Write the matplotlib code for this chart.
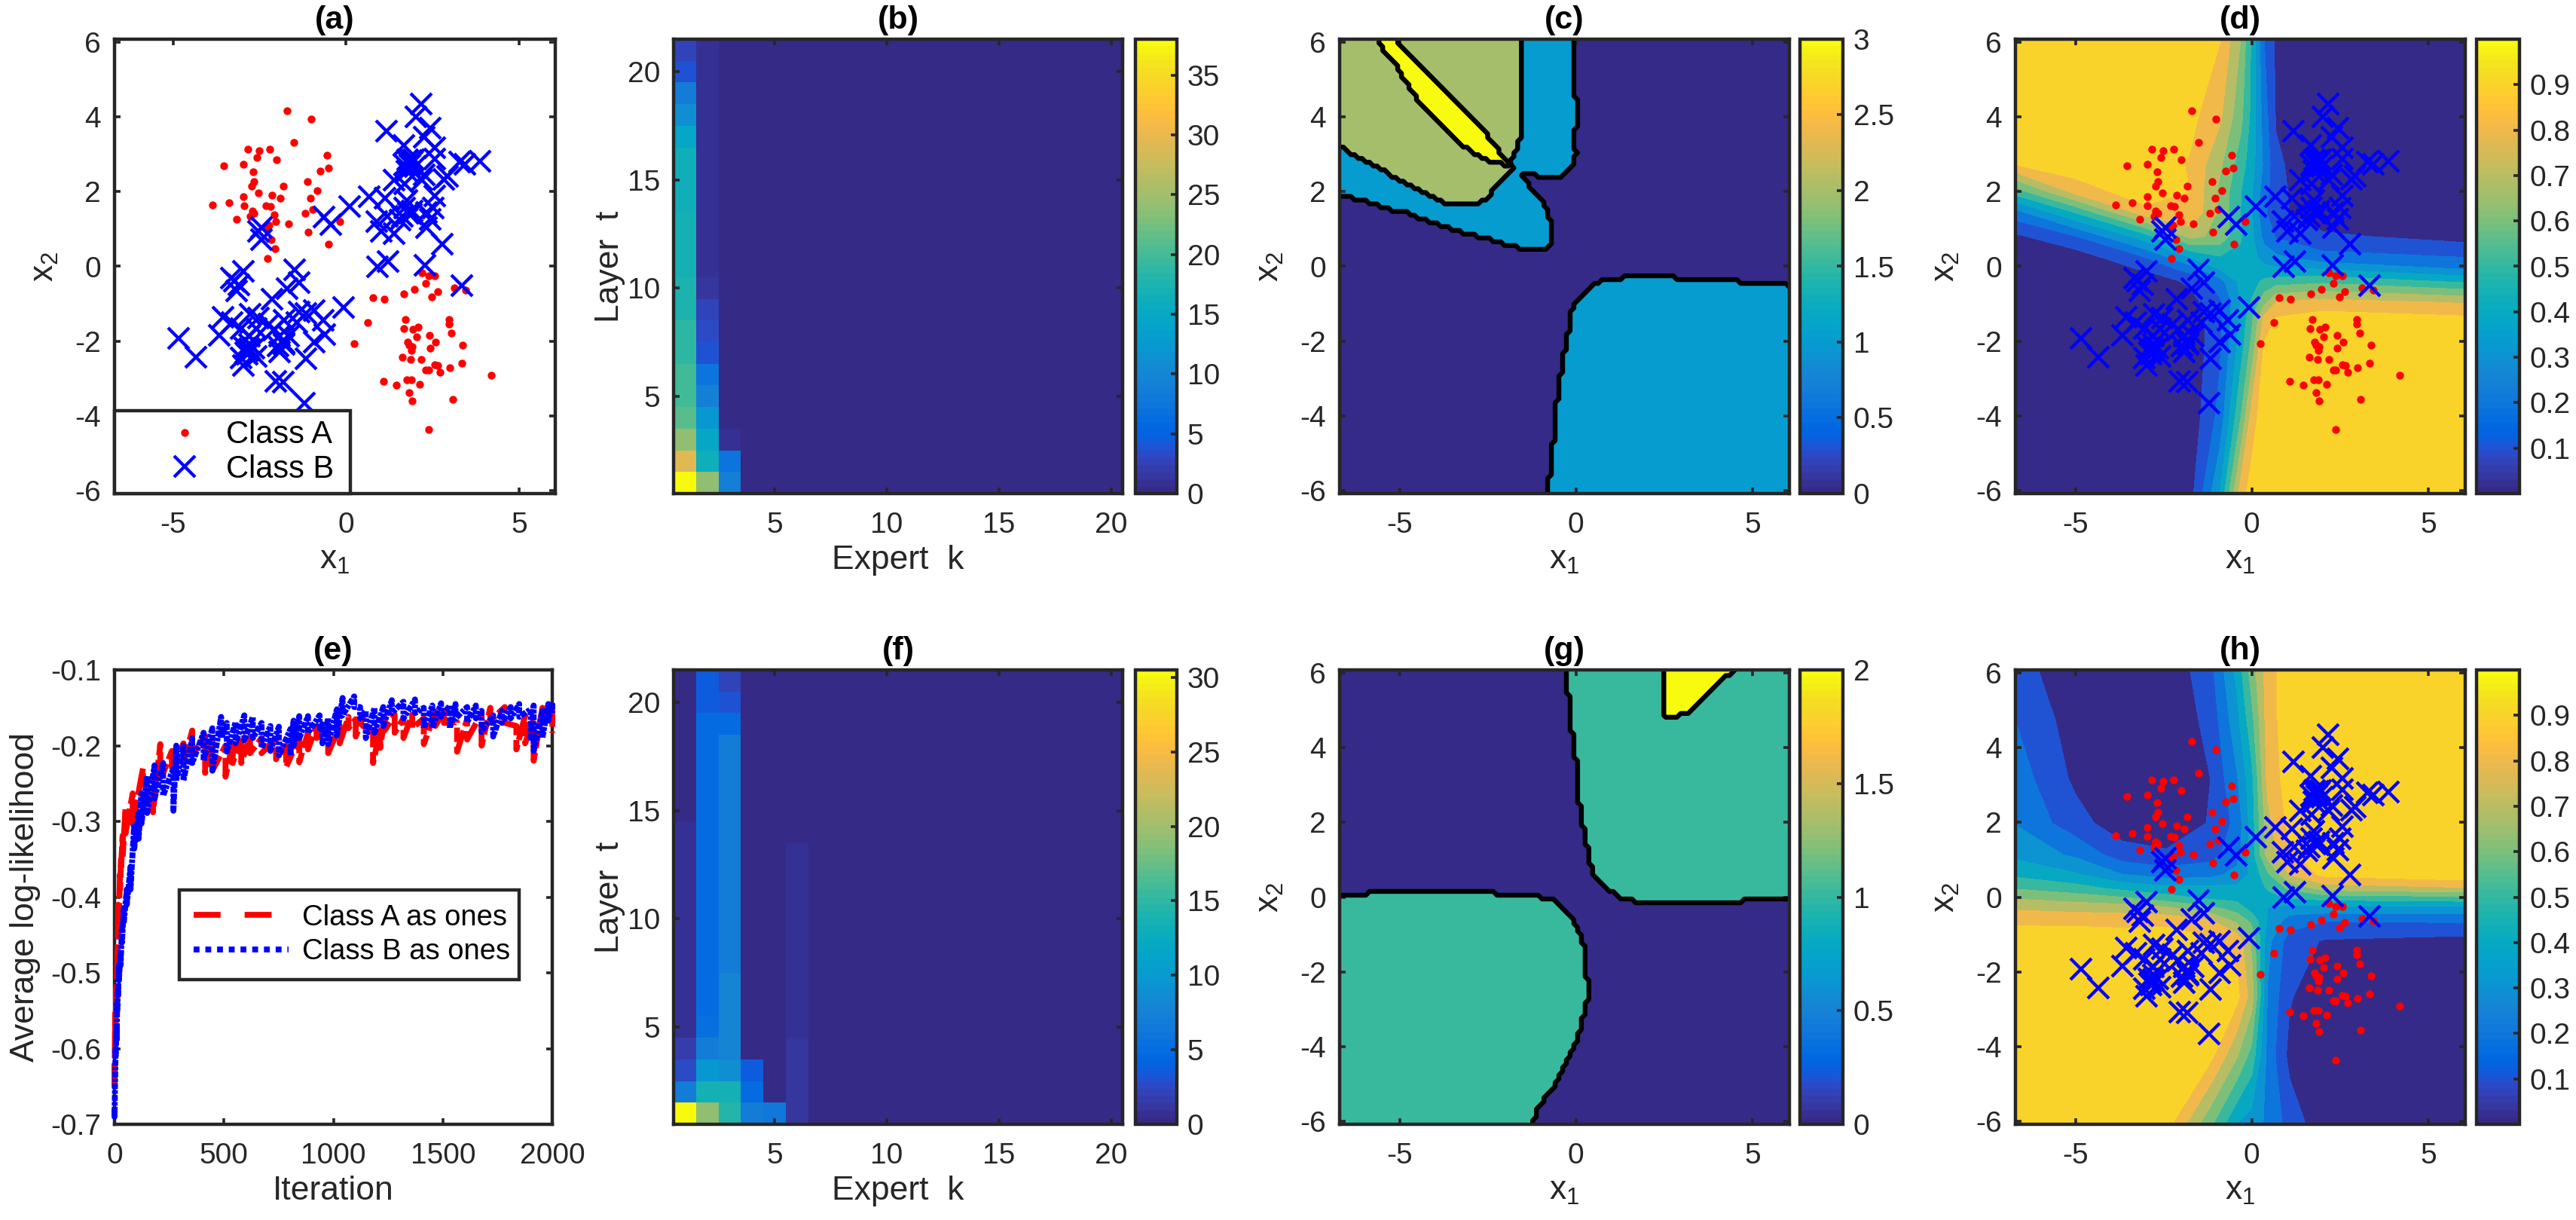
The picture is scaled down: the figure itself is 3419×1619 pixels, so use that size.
import numpy as np
import matplotlib
matplotlib.use('Agg')
from matplotlib import pyplot as plt
from matplotlib.cm import ScalarMappable
from matplotlib.colors import ListedColormap, Normalize
from matplotlib.path import Path

plt.rcParams['font.family'] = ['Liberation Sans', 'DejaVu Sans']
plt.rcParams['mathtext.fontset'] = 'custom'
plt.rcParams['mathtext.rm'] = 'Liberation Sans'
plt.rcParams['mathtext.default'] = 'rm'
plt.rcParams['axes.unicode_minus'] = False
plt.rcParams['font.size'] = 28

# scatter data, same points in (a), (d), (h)
red_x = [-1.71, -1.01, -1.52, -2.84, -2.51, -2.21, -2.58, -2.01, -3.54, -2.97, -0.56, -0.52, -0.74, -2.69,
         -2.66, -2.73, -1.82, -1.13, -0.84, -2.54, -2.14, -2.97, -1.91, -1.03, -3.87, -3.38, -2.96, -2.31,
         -2.19, -0.96, -2.72, -1.18, -2.67, -2.07, -2.77, -3.18, -2.03, -1.66, -0.19, -2.23, -2.28, -1.10,
         -2.16, -0.50, -2.06, -2.27,
         2.19, 2.38, 2.56, 2.31, 1.98, 3.12, 3.45, 2.64, 1.68, 2.48, 0.77, 1.10, 0.62, 1.71, 2.97, 2.97,
         2.08, 1.66, 1.92, 3.05, 2.41, 2.04, 2.58, 1.78, 3.37, 0.24, 1.82, 2.43, 1.90, 1.88, 1.63, 1.87,
         2.18, 3.34, 2.56, 2.66, 3.00, 2.31, 2.38, 2.71, 4.20, 1.07, 1.75, 1.88, 1.46, 2.13, 1.83, 3.09,
         1.91, 2.38]
red_y = [4.17, 3.95, 3.32, 3.13, 3.10, 3.13, 2.91, 2.86, 2.70, 2.73, 2.98, 2.64, 2.55, 2.53,
         2.27, 2.14, 2.15, 2.26, 2.03, 1.96, 1.91, 1.87, 1.83, 1.83, 1.65, 1.71, 1.63, 1.63,
         1.60, 1.52, 1.49, 1.42, 1.42, 1.39, 1.34, 1.27, 1.20, 1.13, 1.19, 1.09, 1.03, 0.92,
         0.71, 0.59, 0.47, 0.21,
         -0.18, -0.25, -0.25, -0.45, -0.61, -0.58, -0.63, -0.68, -0.74, -0.82, -0.83, -0.87, -1.51, -1.42, -1.42, -1.55,
         -1.63, -1.67, -1.69, -1.79, -1.85, -1.89, -2.03, -2.02, -2.11, -2.07, -2.11, -2.18, -2.14, -2.25, -2.44, -2.50,
         -2.50, -2.60, -2.64, -2.65, -2.72, -2.77, -2.77, -2.84, -2.92, -3.07, -3.04, -3.04, -3.17, -3.15, -3.37, -3.55,
         -3.59, -4.36]
blue_x = [2.17, 2.01, 2.44, 1.17, 2.26, 2.57, 1.67, 2.57, 1.78, 1.88, 3.88, 3.44, 3.28, 1.70, 1.90, 1.85, 2.00,
          1.75, 2.26, 2.94, 2.82, 1.38, 1.70, 2.19, 2.57, 0.67, 1.13, 1.76, 0.11, 2.51, 1.70, 1.20, 1.63, 2.32,
          1.88, 0.89, 1.57, 2.44, 1.01, 1.38, 2.32, 2.79, 1.22, 0.91, 2.29, 3.34, 1.95, 1.82, 1.80, 1.90,
          -0.65, -0.45, -2.44, -2.54, -2.44,
          -2.98, -1.50, -3.32, -3.23, -3.17, -3.10, -1.36, -1.70, -2.14, -0.07, -3.57, -0.92, -1.17, -1.36, -2.77,
          -2.54, -3.29, -0.67, -1.80, -1.42, -2.23, -3.04, -2.61, -2.11, -3.67, -0.61, -2.79, -1.67, -1.92, -4.85,
          -0.92, -2.79, -1.80, -1.98, -2.92, -2.67, -4.35, -1.92, -2.86, -1.17, -2.61, -3.04, -2.98, -2.04, -1.82,
          -1.21, -2.85, -2.90, -2.80, -1.85, -1.80]
blue_y = [4.35, 4.01, 3.70, 3.62, 3.46, 3.18, 3.23, 2.88, 2.85, 2.83, 2.81, 2.74, 2.79, 2.72, 2.80, 2.72, 2.68,
          2.55, 2.46, 2.41, 2.32, 2.30, 2.20, 2.30, 1.88, 1.86, 1.83, 1.77, 1.61, 1.56, 1.56, 1.35, 1.35, 1.44,
          1.40, 1.19, 1.25, 1.27, 0.93, 0.88, 1.03, 0.59, 0.14, -0.02, 0.03, -0.52, 2.85, 2.78, 1.42, 1.48,
          1.33, 1.12, 1.03, 0.93, 0.72,
          -0.13, -0.09, -0.32, -0.39, -0.65, -0.50, -0.44, -0.60, -0.87, -1.10, -1.36, -1.18, -1.26, -1.23, -1.29,
          -1.39, -1.50, -1.45, -1.45, -1.50, -1.55, -1.66, -1.66, -1.71, -1.84, -1.82, -1.87, -1.87, -1.87, -1.92,
          -2.03, -2.08, -2.08, -2.13, -2.18, -2.18, -2.42, -2.29, -2.34, -2.47, -2.40, -2.45, -2.66, -3.08, -3.10,
          -3.66, -2.25, -2.30, -2.20, -2.00, -2.05]

# (b) and (f): columns of the expert/layer maps, t = 1 upward, the rest is zero
b_col1 = [38, 29.6, 24.1, 20.8, 19.6, 19.6, 18.7, 18.7, 17.8, 17.8, 16.9, 16.9, 16.9, 16.3, 16.3, 16.3, 14.8, 10.9, 8.4, 3.6, 2.4]
b_col2 = [24.1, 16.3, 14.8, 12, 9, 7.2, 3.6, 3, 2.4, 1.2, 0.6, 0.6, 0.6, 0.6, 0.6, 0.6, 0.6, 0.6, 0.6, 0.6, 0.6]
b_col3 = [9, 7.2, 0.6]
f_col1 = [30.5, 6.8, 2.4, 1.7, 0.7, 0.7, 0.7, 0.7, 0.7, 0.7, 0.5, 0.5, 0.5, 0.5]
f_col2 = [19.4, 13.6, 9.7, 6.8, 5.3, 4.9, 4.9, 4.9, 4.9, 4.9, 4.9, 4.9, 4.9, 4.9, 4.9, 4.9, 4.9, 4.9, 4.9, 3.4, 3.4]
f_col3 = [14.5, 13.6, 8.7, 7.7, 7.7, 7.7, 7.7, 7, 7, 7, 7, 7, 7, 7, 7, 7, 7, 7, 4.9, 2.9, 2.2]
f_col4 = [6.8, 4.9, 3.4]
f_col5 = [6.3]
f_col6 = [1.2, 1.2, 1.2, 1.2, 0.7, 0.7, 0.7, 0.7, 0.7, 0.7, 0.7, 0.7, 0.7]

# (c) region outlines
c_low_x = [-0.80, -0.67, -0.59, -0.51, -0.40, -0.29, -0.21, -0.13, 0, 0.51, 0.93, 1.73, 2.78, 2.86, 4.59, 4.67, 5.85, 5.96, 6.2, 6.2, -0.80]
c_low_y = [-6.04, -5.04, -4.16, -3.36, -2.64, -2.12, -1.68, -1.16, -0.96, -0.48, -0.34, -0.26, -0.26, -0.32, -0.32, -0.42, -0.42, -0.52, -0.52, -6.2, -6.2]
c_one_x = [-6.9, -6.65, -6.36, -5.93, -5.43, -4.84, -4.34, -3.62, -3.07, -2.48, -2.06, -1.68, -1.14, -1.05, -0.80, -0.67, -0.66, -0.80,
           -0.97, -1.26, -1.52, -1.43, -1.22, -1.14, -0.42, -0.13, 0, -0.03, 0.04, 0.04, -0.04, -0.04, -6.9]
c_one_y = [1.92, 1.92, 1.82, 1.72, 1.56, 1.44, 1.24, 1.04, 0.86, 0.72, 0.60, 0.50, 0.46, 0.40, 0.52, 0.64, 1.04, 1.40,
           1.80, 2.08, 2.40, 2.52, 2.52, 2.42, 2.42, 2.68, 2.96, 3.68, 3.76, 4.44, 4.56, 6.2, 6.2]
c_two_x = [-6.9, -6.65, -6.36, -5.93, -5.47, -5.09, -4.59, -4.08, -3.54, -2.95, -2.57, -2.02, -1.77, -1.85, -1.73, -1.68, -1.58, -1.58, -6.9]
c_two_y = [3.22, 3.22, 3.02, 2.78, 2.60, 2.32, 2.12, 1.84, 1.64, 1.64, 1.80, 2.36, 2.60, 2.80, 3.00, 3.28, 3.40, 6.2, 6.2]
c_three_x = [-5.60, -5.47, -5.09, -4.67, -4.42, -3.45, -2.90, -2.31, -1.89, -2.69, -5.09, -5.09, -5.60]
c_three_y = [6.04, 5.80, 5.36, 4.72, 4.36, 3.40, 3.04, 2.76, 2.72, 3.72, 6.04, 6.2, 6.2]

# (g) region outlines
g_up_x = [-0.28, -0.28, -0.17, -0.17, -0.08, -0.08, 0, 0, 0.08, 0.08, 0.17, 0.17, 0.28, 0.28, 0.36, 0.36, 0.46, 0.51, 0.93, 1.09,
          1.30, 1.56, 1.68, 2.40, 2.48, 4.63, 4.76, 5.96, 6.2, 6.2, -0.28]
g_up_y = [6.1, 5.42, 5.34, 4.50, 4.42, 3.74, 3.66, 3.10, 3.02, 2.54, 2.46, 1.90, 1.82, 1.38, 1.30, 0.94, 0.86, 0.58, 0.14, 0.10,
          -0.04, -0.04, -0.12, -0.12, -0.20, -0.20, -0.10, -0.10, -0.10, 6.2, 6.2]
g_top_x = [2.44, 2.44, 2.57, 2.82, 2.99, 3.20, 4.42, 4.6, 2.44]
g_top_y = [6.04, 4.98, 4.78, 4.78, 4.90, 4.94, 6.04, 6.2, 6.2]
g_low_x = [-6.9, -5.93, -5.85, -2.31, -2.23, -1.05, -0.97, -0.67, -0.51, -0.04, 0.08, 0.21, 0.29, 0.34, 0.21, 0.13, -0.04, -0.21,
           -0.46, -0.67, -0.93, -1.14, -1.24, -1.3, -6.9]
g_low_y = [0.04, 0.04, 0.14, 0.14, 0.04, 0.04, -0.06, -0.06, -0.17, -0.62, -0.94, -1.26, -1.70, -2.70, -3.14, -3.58, -3.94, -4.30,
           -4.78, -5.14, -5.46, -5.78, -6.06, -6.2, -6.2]

# (d) output probability read on a coarse grid, rows go from top to bottom
d_x = [-6.7, -5.03, -3.01, -1.75, -0.91, -0.32, 0, 0.35, 0.69, 2.01, 6.05]
d_y = [6.08, 4, 2.72, 2, 1.44, 0.8, 0.24, -0.08, -0.4, -0.96, -1.36, -2, -4, -6.08]
d_z = [[.98, .98, .98, .96, .905, .70, .48, .20, .08, .01, .01],
       [.98, .98, .98, .93, .82, .63, .47, .25, .09, .01, .01],
       [.90, .97, .97, .89, .72, .55, .44, .28, .12, .01, .01],
       [.55, .83, .97, .90, .68, .505, .41, .25, .13, .01, .01],
       [.26, .50, .86, .89, .68, .50, .41, .22, .13, .02, .01],
       [.08, .19, .46, .73, .67, .51, .42, .27, .19, .12, .06],
       [.02, .04, .20, .40, .49, .48, .44, .35, .32, .235, .20],
       [.01, .02, .11, .24, .40, .43, .45, .44, .42, .40, .30],
       [.01, .01, .03, .12, .26, .43, .46, .52, .55, .575, .48],
       [.005, .005, .01, .06, .18, .40, .51, .67, .80, .84, .79],
       [.005, .005, .005, .03, .17, .42, .58, .82, .90, .94, .91],
       [.005, .005, .005, .02, .18, .44, .62, .90, .96, .98, .98],
       [.005, .005, .005, .03, .23, .59, .84, .97, .98, .98, .98],
       [.005, .005, .005, .06, .40, .845, .95, .98, .98, .98, .98]]

# (h) same thing
h_x = [-6.7, -5, -3.67, -2.42, -1.17, -0.42, 0, 0.45, 1.07, 2.07, 6.05]
h_y = [6.08, 4.73, 3.15, 1.98, 1.14, 0.61, 0.24, -0.02, -0.28, -0.65, -1.18, -2.66, -4.24, -6.08]
h_z = [[.15, .02, .01, .02, .17, .43, .65, .85, .96, .98, .98],
       [.20, .05, .01, .02, .13, .37, .57, .85, .96, .98, .98],
       [.255, .08, .01, .01, .10, .29, .47, .83, .95, .98, .98],
       [.295, .14, .04, .01, .11, .23, .45, .77, .93, .98, .98],
       [.375, .28, .145, .12, .165, .25, .45, .74, .88, .96, .98],
       [.475, .41, .30, .25, .26, .34, .42, .58, .81, .93, .98],
       [.59, .54, .47, .43, .43, .42, .44, .51, .62, .75, .79],
       [.69, .65, .61, .54, .48, .47, .46, .47, .51, .54, .57],
       [.78, .76, .75, .71, .62, .55, .45, .40, .36, .37, .375],
       [.885, .88, .87, .88, .82, .68, .58, .39, .25, .20, .21],
       [.95, .96, .96, .95, .92, .87, .68, .33, .15, .09, .06],
       [.98, .98, .98, .98, .96, .93, .75, .29, .11, .02, .01],
       [.98, .98, .98, .98, .93, .71, .56, .27, .07, .01, .01],
       [.98, .98, .98, .94, .62, .40, .35, .28, .16, .03, .01]]

# (e) curves: top and bottom of the noisy band at each iteration
red_iter = [0, 3, 8, 14, 17, 25, 30, 37, 50, 83, 130, 176, 209, 262, 315, 355, 414, 447, 507, 540, 579, 619, 672, 738, 784, 844, 884,
            923, 976, 1029, 1069, 1102, 1135, 1181, 1214, 1234, 1280, 1320, 1360, 1413, 1466, 1505, 1565, 1611, 1677, 1717, 1783,
            1836, 1876, 1915, 1955, 2000]
red_hi = [-.62, -.55, -.52, -.47, -.41, -.37, -.35, -.319, -.283, -.263, -.230, -.240, -.198, -.207, -.197, -.180, -.187, -.190, -.200,
          -.197, -.188, -.188, -.190, -.190, -.200, -.190, -.183, -.174, -.177, -.174, -.162, -.165, -.162, -.183, -.180, -.162, -.159,
          -.164, -.159, -.164, -.155, -.154, -.169, -.165, -.157, -.150, -.149, -.174, -.160, -.165, -.150, -.147]
red_lo = [-.65, -.60, -.54, -.49, -.45, -.39, -.36, -.349, -.316, -.303, -.276, -.288, -.246, -.233, -.223, -.213, -.236, -.233, -.241,
          -.223, -.223, -.210, -.210, -.218, -.228, -.222, -.205, -.190, -.210, -.197, -.177, -.188, -.174, -.223, -.203, -.180, -.183,
          -.190, -.177, -.198, -.174, -.170, -.208, -.192, -.200, -.167, -.170, -.205, -.197, -.220, -.170, -.183]
blue_iter = [0, 5, 10, 12, 16, 20, 28, 34, 42, 56, 73, 90, 110, 123, 149, 183, 222, 269, 282, 315, 355, 407, 447, 487, 513, 553, 593,
             632, 672, 712, 751, 804, 818, 844, 884, 937, 950, 976, 1016, 1042, 1095, 1122, 1148, 1188, 1228, 1267, 1320, 1373, 1413,
             1452, 1492, 1532, 1558, 1611, 1651, 1677, 1730, 1770, 1810, 1849, 1902, 1915, 1955, 1982, 2000]
blue_hi = [-.68, -.60, -.57, -.54, -.52, -.49, -.47, -.44, -.415, -.39, -.36, -.303, -.289, -.263, -.240, -.226, -.223, -.230, -.200,
           -.200, -.190, -.183, -.177, -.162, -.170, -.169, -.160, -.162, -.170, -.174, -.175, -.178, -.167, -.161, -.161, -.160, -.172,
           -.164, -.152, -.137, -.135, -.149, -.154, -.150, -.149, -.140, -.142, -.139, -.150, -.147, -.144, -.147, -.145, -.149,
           -.147, -.154, -.160, -.154, -.149, -.145, -.152, -.147, -.154, -.145, -.143]
blue_lo = [-.69, -.61, -.59, -.55, -.53, -.51, -.49, -.46, -.435, -.41, -.39, -.336, -.323, -.303, -.289, -.270, -.266, -.286, -.246,
           -.246, -.223, -.220, -.233, -.190, -.208, -.197, -.193, -.190, -.203, -.207, -.213, -.213, -.200, -.190, -.183, -.177, -.197,
           -.198, -.187, -.160, -.149, -.164, -.190, -.183, -.174, -.157, -.164, -.157, -.177, -.177, -.162, -.177, -.164, -.169,
           -.164, -.182, -.188, -.170, -.164, -.162, -.190, -.207, -.190, -.167, -.157]

# matlab parula, 64 steps
parula = ListedColormap([
    (.2081, .1663, .5292), (.2116, .1898, .5777), (.2123, .2138, .6270), (.2081, .2386, .6771), (.1959, .2645, .7279), (.1707, .2919, .7792),
    (.1253, .3242, .8303), (.0591, .3598, .8683), (.0117, .3875, .8820), (.0060, .4086, .8828), (.0165, .4266, .8786), (.0329, .4430, .8720),
    (.0498, .4586, .8641), (.0629, .4737, .8554), (.0723, .4887, .8467), (.0779, .5040, .8384), (.0793, .5200, .8312), (.0749, .5375, .8263),
    (.0641, .5570, .8240), (.0488, .5772, .8228), (.0343, .5966, .8199), (.0265, .6137, .8135), (.0239, .6287, .8038), (.0231, .6418, .7913),
    (.0228, .6535, .7768), (.0267, .6642, .7607), (.0384, .6743, .7436), (.0590, .6838, .7254), (.0843, .6928, .7062), (.1133, .7015, .6859),
    (.1453, .7098, .6646), (.1801, .7177, .6424), (.2178, .7250, .6193), (.2586, .7317, .5954), (.3022, .7376, .5712), (.3482, .7424, .5473),
    (.3953, .7459, .5244), (.4420, .7481, .5033), (.4871, .7491, .4840), (.5300, .7491, .4661), (.5709, .7485, .4494), (.6099, .7473, .4337),
    (.6473, .7456, .4188), (.6834, .7435, .4044), (.7184, .7411, .3905), (.7525, .7384, .3768), (.7858, .7356, .3633), (.8185, .7327, .3498),
    (.8507, .7299, .3360), (.8824, .7274, .3217), (.9139, .7258, .3063), (.9450, .7261, .2886), (.9739, .7314, .2666), (.9938, .7455, .2403),
    (.9990, .7653, .2164), (.9955, .7861, .1967), (.9880, .8066, .1794), (.9789, .8271, .1633), (.9697, .8481, .1475), (.9626, .8705, .1309),
    (.9589, .8949, .1132), (.9598, .9218, .0948), (.9661, .9514, .0755), (.9763, .9831, .0538)])

W, H = 3419, 1619
DARK = '#262626'
LABEL = 32
XLIM = (-6.7, 6.05)
YLIM = (-6.08, 6.08)
LEFT = [(152, 737), (894, 1490), (1778, 2375), (2675, 3272)]
CBAR = [None, (1507, 1562), (2389, 2446), (3287, 3344)]
ROW = [(52, 655), (889, 1492)]

fig = plt.figure(figsize=(W / 100, H / 100), dpi=100)


def px_axes(x0, x1, y0, y1):
    return fig.add_axes([x0 / W, 1 - y1 / H, (x1 - x0) / W, (y1 - y0) / H])


def style(ax, title):
    for s in ax.spines.values():
        s.set_linewidth(3.2)
        s.set_color(DARK)
    ax.tick_params(direction='in', length=6, width=2.6, top=True, right=True, color=DARK, labelcolor=DARK, labelsize=28)
    ax.tick_params(axis='x', pad=17)
    ax.tick_params(axis='y', pad=13)
    ax.set_title(title, fontweight='bold', fontsize=31, pad=10)


def xy_axes(ax, title):
    style(ax, title)
    ax.set_xlim(XLIM)
    ax.set_ylim(YLIM)
    ax.set_xticks([-5, 0, 5])
    ax.set_yticks([-6, -4, -2, 0, 2, 4, 6])
    ax.set_xlabel('x$_1$', fontsize=LABEL, color=DARK, labelpad=6)
    ax.set_ylabel('x$_2$', fontsize=LABEL, color=DARK, labelpad=14)


def add_cbar(ax_box, vmin, vmax, ticks, labels=None):
    cax = px_axes(*ax_box)
    cb = fig.colorbar(ScalarMappable(Normalize(vmin, vmax), parula), cax=cax)
    cb.set_ticks(ticks)
    if labels:
        cb.set_ticklabels(labels)
    cb.outline.set_linewidth(3.2)
    cb.outline.set_edgecolor(DARK)
    cax.tick_params(direction='in', length=6, width=2.6, color=DARK, labelcolor=DARK, labelsize=28, pad=10)
    return cb


def heat(ax, cols, vmax, title):
    z = np.zeros((21, 20))
    for k, col in enumerate(cols):
        z[:len(col), k] = col
    ax.imshow(z, origin='lower', extent=[0.5, 20.5, 0.5, 21.5], aspect='auto', cmap=parula, vmin=0, vmax=vmax, interpolation='nearest')
    style(ax, title)
    ax.set_xticks([5, 10, 15, 20])
    ax.set_yticks([5, 10, 15, 20])
    ax.set_xlabel('Expert  k', fontsize=LABEL, color=DARK, labelpad=6)
    ax.set_ylabel('Layer  t', fontsize=LABEL, color=DARK, labelpad=2)


def regions(ax, outlines, vmax):
    # labels on a grid from the outlines, contour gives the stepped edges
    gx, gy = np.meshgrid(np.linspace(XLIM[0], XLIM[1], 121), np.linspace(YLIM[0], YLIM[1], 121))
    pts = np.column_stack((gx.ravel(), gy.ravel()))
    z = np.zeros(gx.shape)
    for px, py, v in outlines:
        inside = Path(np.column_stack((px, py))).contains_points(pts).reshape(gx.shape)
        z[inside] = v
    steps = np.arange(0, vmax + 1)
    cols = [parula(Normalize(0, vmax)(v)) for v in steps]
    ax.contourf(gx, gy, z, levels=np.arange(-0.5, vmax + 1), colors=cols)
    ax.contour(gx, gy, z, levels=steps[:-1] + 0.5, colors='k', linewidths=4.6)


def field(ax, x, y, z):
    # band colour comes from its lower level like matlab contourf
    levels = np.arange(0, 1.01, 0.1)
    ax.contourf(x, y[::-1], np.array(z)[::-1], levels=levels, colors=[parula(v) for v in levels[:-1]])


def points(ax):
    ax.plot(red_x, red_y, 'o', color='r', ms=7.5, mew=0, label='Class A')
    ax.plot(blue_x, blue_y, 'x', color='b', ms=20, mew=3.1, label='Class B')


def band(ax, it, hi, lo, on, off, color, label):
    # second pass fills most of the dash gaps so the noisy band closes up like the dense original
    x = np.repeat(it, 2)
    y = np.column_stack((hi, lo)).ravel()
    ax.plot(x, y, color=color, lw=5.6, linestyle=(0.8 * off, (0.6 * off, on + 0.4 * off)), dash_capstyle='butt', clip_on=False, zorder=3)
    ax.plot(x, y, color=color, lw=5.6, dashes=(on, off), dash_capstyle='butt', clip_on=False, zorder=3, label=label)


# (a)
ax = px_axes(*LEFT[0], *ROW[0])
points(ax)
xy_axes(ax, '(a)')
leg = ax.legend(loc='lower left', bbox_to_anchor=(0, 0, 0.535, 0.175), mode='expand', borderaxespad=0, fontsize=30, labelspacing=0.12,
                fancybox=False, framealpha=1, edgecolor=DARK, handletextpad=-0.6, borderpad=0.3, handlelength=3.85, labelcolor='k')
leg.get_frame().set_linewidth(3.2)

# (b)
ax = px_axes(*LEFT[1], *ROW[0])
heat(ax, [b_col1, b_col2, b_col3], 38, '(b)')
add_cbar((*CBAR[1], *ROW[0]), 0, 38, np.arange(0, 36, 5))

# (c)
ax = px_axes(*LEFT[2], *ROW[0])
regions(ax, [(c_low_x, c_low_y, 1), (c_one_x, c_one_y, 1), (c_two_x, c_two_y, 2), (c_three_x, c_three_y, 3)], 3)
xy_axes(ax, '(c)')
add_cbar((*CBAR[2], *ROW[0]), 0, 3, [0, .5, 1, 1.5, 2, 2.5, 3], ['0', '0.5', '1', '1.5', '2', '2.5', '3'])

# (d)
ax = px_axes(*LEFT[3], *ROW[0])
field(ax, d_x, d_y, d_z)
points(ax)
xy_axes(ax, '(d)')
add_cbar((*CBAR[3], *ROW[0]), 0, 1, np.arange(.1, .95, .1), ['0.%d' % i for i in range(1, 10)])

# (e)
ax = px_axes(*LEFT[0][:1], 733, *ROW[1])
band(ax, red_iter, red_hi, red_lo, 4.6, 4.1, 'r', 'Class A as ones')
band(ax, blue_iter, blue_hi, blue_lo, 1, 1, 'b', 'Class B as ones')
style(ax, '(e)')
ax.set_xlim(0, 2000)
ax.set_ylim(-0.7, -0.1)
ax.set_xticks(np.arange(0, 2001, 500))
ax.set_yticks([-0.7, -0.6, -0.5, -0.4, -0.3, -0.2, -0.1])
ax.set_yticklabels(['-0.7', '-0.6', '-0.5', '-0.4', '-0.3', '-0.2', '-0.1'])
ax.set_xlabel('Iteration', fontsize=LABEL, color=DARK, labelpad=6)
ax.set_ylabel('Average log-likelihood', fontsize=LABEL, color=DARK, labelpad=9)
leg = ax.legend(loc='lower left', bbox_to_anchor=(0.148, 0.318, 0.776, 0.171), mode='expand', borderaxespad=0, fontsize=27.5, labelspacing=0.25,
                fancybox=False, framealpha=1, edgecolor=DARK, handlelength=3.3, handletextpad=0.47, borderpad=0.5, labelcolor='k')
leg.get_frame().set_linewidth(3.2)

# (f)
ax = px_axes(*LEFT[1], *ROW[1])
heat(ax, [f_col1, f_col2, f_col3, f_col4, f_col5, f_col6], 30.5, '(f)')
add_cbar((*CBAR[1], *ROW[1]), 0, 30.5, np.arange(0, 31, 5))

# (g)
ax = px_axes(*LEFT[2], *ROW[1])
regions(ax, [(g_up_x, g_up_y, 1), (g_low_x, g_low_y, 1), (g_top_x, g_top_y, 2)], 2)
xy_axes(ax, '(g)')
add_cbar((*CBAR[2], *ROW[1]), 0, 2, [0, .5, 1, 1.5, 2], ['0', '0.5', '1', '1.5', '2'])

# (h)
ax = px_axes(*LEFT[3], *ROW[1])
field(ax, h_x, h_y, h_z)
points(ax)
xy_axes(ax, '(h)')
add_cbar((*CBAR[3], *ROW[1]), 0, 1, np.arange(.1, .95, .1), ['0.%d' % i for i in range(1, 10)])

fig.savefig('out.png', dpi=100)
